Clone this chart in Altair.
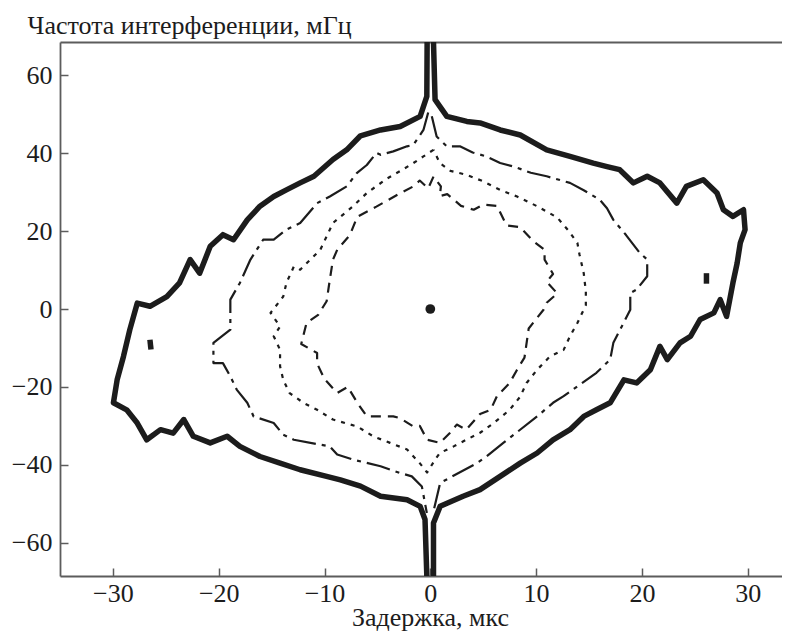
import altair as alt
import pandas as pd

X_TICKS = [-30, -20, -10, 0, 10, 20, 30]
Y_TICKS = [-60, -40, -20, 0, 20, 40, 60]

# outermost contour (thick solid), two halves joined by the vertical spike at zero delay
OUTER_LEFT = [(-0.3, 68.6), (-0.33, 54.6), (-0.96, 49.5), (-2.85, 46.9), (-4.7, 46.0), (-6.6, 44.5),
              (-7.9, 40.9), (-9.2, 38.4), (-11.0, 34.1), (-12.3, 32.4), (-13.6, 30.6), (-14.8, 28.9),
              (-16.1, 26.4), (-17.3, 22.9), (-18.6, 17.8), (-19.6, 19.1), (-20.8, 16.1), (-21.8, 9.2),
              (-22.7, 12.7), (-23.7, 6.7), (-24.9, 3.2), (-26.5, 0.7), (-27.7, 1.5), (-28.4, -5.3),
              (-29.0, -12.2), (-29.6, -18.2), (-29.95, -24.1), (-28.7, -25.9), (-27.7, -29.3), (-26.8, -33.6),
              (-25.5, -31.0), (-24.3, -31.9), (-23.3, -28.4), (-22.4, -32.7), (-20.8, -34.4), (-19.2, -32.7),
              (-18.0, -35.3), (-16.1, -37.9), (-14.2, -39.6), (-12.3, -41.3), (-9.8, -43.0), (-8.5, -43.9),
              (-6.6, -45.5), (-4.7, -48.1), (-2.2, -49.0), (-0.96, -50.7), (-0.5, -54.1), (-0.33, -68.6)]
OUTER_RIGHT = [(0.3, 68.6), (0.45, 53.8), (1.56, 49.5), (3.45, 48.2), (4.7, 47.8), (6.6, 46.0), (8.5, 44.7),
               (11.0, 40.9), (13.2, 39.2), (15.4, 37.5), (16.7, 36.6), (17.9, 35.8), (19.2, 32.4), (20.5, 34.1),
               (21.7, 32.4), (23.3, 27.2), (24.2, 31.5), (25.8, 33.2), (27.1, 29.8), (27.7, 25.5), (28.6, 23.8),
               (29.6, 25.5), (29.75, 20.4), (29.3, 17.0), (29.0, 11.8), (28.6, 6.7), (28.0, -1.9), (27.4, 2.4),
               (26.8, -1.0), (25.5, -2.7), (24.6, -7.0), (23.6, -8.7), (22.4, -13.0), (21.7, -9.6), (20.8, -15.6),
               (19.5, -19.0), (18.3, -18.2), (17.0, -24.1), (15.7, -25.9), (14.5, -27.6), (13.2, -31.0),
               (11.6, -33.6), (10.1, -37.0), (8.5, -39.6), (6.6, -43.0), (4.7, -46.4), (3.1, -48.1),
               (0.93, -50.7), (0.3, -55.0), (0.3, -68.6)]
OUTER_BLOB_LEFT = [(-26.5, -7.9), (-26.4, -10.4)]
OUTER_BLOB_RIGHT = [(26.1, 9.2), (26.1, 6.5)]

# second contour (thin dash-dot)
DASHDOT_LEFT = [(-0.2, 50.5), (-0.65, 46.0), (-1.6, 42.2), (-2.2, 41.8), (-3.5, 40.5), (-4.7, 39.6),
                (-5.1, 40.1), (-6.0, 37.0), (-6.95, 34.9), (-7.9, 31.5), (-9.5, 28.9), (-10.7, 27.2),
                (-12.3, 22.1), (-13.6, 20.4), (-14.8, 17.8), (-15.8, 17.8), (-17.0, 12.7), (-18.0, 6.7),
                (-18.9, 2.4), (-18.9, -5.3), (-20.5, -8.7), (-20.5, -13.9), (-19.6, -13.9), (-18.9, -17.3),
                (-18.3, -20.7), (-17.3, -24.1), (-16.7, -27.6), (-14.8, -29.3), (-13.9, -32.3), (-12.9, -33.6),
                (-9.5, -35.3), (-8.8, -37.4), (-7.3, -38.7), (-4.7, -40.4), (-2.9, -42.1), (-1.75, -43.0),
                (-0.8, -45.6), (-0.33, -52.4)]
DASHDOT_RIGHT = [(0.14, 49.5), (0.6, 44.3), (1.56, 41.8), (2.8, 41.8), (4.0, 40.2), (5.3, 39.2), (6.6, 37.5),
                 (7.9, 36.6), (9.5, 35.0), (11.0, 34.1), (13.2, 32.4), (14.5, 30.5), (16.0, 28.1), (16.7, 25.9),
                 (17.3, 22.9), (18.5, 19.0), (19.8, 14.4), (20.5, 12.7), (20.5, 8.4), (19.5, 5.0), (18.9, 4.1),
                 (18.9, -0.2), (17.3, -8.7), (17.0, -13.0), (15.7, -16.4), (12.6, -22.4), (11.6, -24.1),
                 (10.1, -27.6), (6.9, -34.4), (5.3, -37.9), (4.4, -39.6), (0.93, -44.7), (0.3, -52.0)]

# third contour (dotted)
DOTTED = [(0.3, 40.9), (-0.65, 39.2), (-1.6, 37.5), (-2.5, 36.0), (-4.1, 33.5), (-6.0, 29.8), (-7.3, 26.4),
          (-9.2, 22.1), (-10.4, 15.2), (-12.3, 10.1), (-12.9, 10.9), (-13.6, 6.7), (-13.9, 3.2), (-15.1, -1.0),
          (-14.2, -4.5), (-14.8, -7.0), (-14.2, -10.5), (-14.2, -14.7), (-13.9, -18.2), (-13.3, -21.6),
          (-12.0, -24.1), (-10.7, -25.9), (-9.2, -28.4), (-6.9, -30.2), (-5.4, -32.7), (-3.8, -34.4),
          (-2.2, -36.1), (-1.0, -39.6), (-0.3, -42.0), (0.5, -38.5), (0.9, -37.0), (2.2, -35.3), (3.4, -33.6),
          (4.7, -31.8), (6.0, -29.3), (7.5, -25.9), (8.5, -22.5), (9.1, -19.0), (10.1, -15.6), (11.3, -12.2),
          (12.6, -10.5), (13.2, -7.0), (13.9, -3.6), (14.7, 1.0), (14.7, 4.5), (14.5, 9.2), (14.1, 14.0),
          (13.9, 17.0), (13.1, 20.0), (12.0, 23.5), (10.1, 26.4), (8.2, 28.9), (6.6, 30.6), (5.0, 32.8),
          (3.4, 34.5), (1.9, 35.5), (0.9, 37.5), (0.3, 40.9)]

# innermost contour (dashed)
DASHED = [(0.3, 34.0), (-0.2, 31.0), (-1.0, 33.0), (-1.6, 31.5), (-3.0, 29.5), (-5.1, 26.3), (-6.9, 23.7),
          (-7.6, 19.0), (-8.8, 15.2), (-9.2, 12.7), (-9.5, 7.5), (-9.8, 2.0), (-10.6, -1.5), (-11.7, -3.6),
          (-12.2, -9.0), (-10.7, -11.3), (-10.7, -14.0), (-10.0, -18.0), (-8.8, -21.6), (-7.8, -20.0),
          (-6.9, -24.1), (-6.0, -27.6), (-3.5, -27.6), (-2.9, -28.0), (-1.6, -30.2), (-1.0, -30.0),
          (-0.3, -33.6), (0.9, -34.4), (1.8, -32.0), (2.5, -29.7), (3.4, -31.0), (4.7, -27.0), (5.7, -25.9),
          (6.3, -22.4), (7.5, -19.0), (8.2, -15.6), (8.9, -12.5), (9.3, -5.0), (10.7, -0.2), (11.0, 1.6),
          (12.0, 4.0), (11.0, 7.0), (11.6, 9.0), (10.8, 12.7), (10.8, 15.2), (9.7, 17.5), (8.5, 21.0),
          (7.2, 21.5), (6.3, 26.5), (5.0, 26.8), (4.1, 25.5), (2.9, 26.5), (1.6, 29.5), (0.9, 29.0),
          (1.0, 31.5), (0.3, 34.0)]

CENTER = [(0.0, 0.0)]

rows = []


def add(piece, style, pts):
    for i, (x, y) in enumerate(pts):
        rows.append({"piece": piece, "style": style, "i": i, "x": x, "y": y})


add("outer_l", "outer", OUTER_LEFT)
add("outer_r", "outer", OUTER_RIGHT)
add("outer_bl", "outer", OUTER_BLOB_LEFT)
add("outer_br", "outer", OUTER_BLOB_RIGHT)
add("dd_l", "dashdot", DASHDOT_LEFT)
add("dd_r", "dashdot", DASHDOT_RIGHT)
add("dot", "dotted", DOTTED)
add("dash", "dashed", DASHED)
df = pd.DataFrame(rows)
center_df = pd.DataFrame([{"x": x, "y": y} for x, y in CENTER])

FONT = "Liberation Serif"
AX = "#5c5c5c"
INK = "#1c1c1c"
FS = 26

xs = alt.Scale(domain=[-35, 33.24], nice=False, zero=False)
ys = alt.Scale(domain=[-68.6, 68.6], nice=False, zero=False)

main_x_axis = alt.Axis(orient="bottom", values=X_TICKS, ticks=False, tickSize=0, domain=True,
                       domainColor=AX, domainWidth=1.8, labelFont=FONT, labelFontSize=FS,
                       labelColor=INK, labelPadding=4, labelFlush=False, grid=False,
                       titleFont=FONT, titleFontSize=FS, titleFontWeight="normal", titleColor=INK,
                       titleX=370, titleY=49, titleAlign="center", titleBaseline="alphabetic")
main_y_axis = alt.Axis(orient="left", values=Y_TICKS, ticks=False, tickSize=0, domain=True,
                       domainColor=AX, domainWidth=1.8, labelFont=FONT, labelFontSize=FS,
                       labelColor=INK, labelPadding=8, labelFlush=False, grid=False,
                       titleFont=FONT, titleFontSize=FS, titleFontWeight="normal", titleColor=INK,
                       titleAngle=0, titleX=-33, titleY=-9, titleAlign="left", titleBaseline="alphabetic")
tick_x_axis = alt.Axis(orient="bottom", values=X_TICKS, ticks=True, tickSize=8, tickColor=AX,
                       tickWidth=1.5, offset=-8, domain=False, labels=False, grid=False)
tick_y_axis = alt.Axis(orient="left", values=Y_TICKS, ticks=True, tickSize=8, tickColor=AX,
                       tickWidth=1.5, offset=-8, domain=False, labels=False, grid=False)
top_x_axis = alt.Axis(orient="top", ticks=False, domain=True, domainColor=AX, domainWidth=2,
                      labels=False, grid=False)


def contour(style, width, dash, xaxis, yaxis, xtitle=None, ytitle=None):
    kw = dict(color=INK, strokeWidth=width, strokeJoin="round", strokeCap="butt", clip=True)
    if dash:
        kw["strokeDash"] = dash
    return alt.Chart(df).transform_filter(alt.datum.style == style).mark_line(**kw).encode(
        x=alt.X("x:Q", scale=xs, axis=xaxis, title=xtitle),
        y=alt.Y("y:Q", scale=ys, axis=yaxis, title=ytitle),
        detail="piece:N",
        order="i:Q",
    )


outer = contour("outer", 5.5, None, main_x_axis, main_y_axis,
                "Задержка, мкс", "Частота интерференции, мГц")
dashdot = contour("dashdot", 2.2, [24, 6, 4, 6], top_x_axis, None)
dotted = contour("dotted", 2.2, [4, 6], tick_x_axis, tick_y_axis)
dashed = contour("dashed", 2.2, [10, 7], None, None)

dot = alt.Chart(center_df).mark_point(filled=True, size=95, color=INK, opacity=1).encode(
    x=alt.X("x:Q", scale=xs, axis=None),
    y=alt.Y("y:Q", scale=ys, axis=None),
)

chart = alt.layer(outer, dashdot, dotted, dashed, dot).resolve_axis(
    x="independent", y="independent"
).properties(
    width=722, height=534,
    autosize=alt.AutoSizeParams(type="none"),
    padding={"left": 52, "top": 34, "right": 0, "bottom": 57},
    background="white",
).configure_view(strokeWidth=0)

chart.save("out.html", embed_options={"renderer": "svg", "actions": False})
